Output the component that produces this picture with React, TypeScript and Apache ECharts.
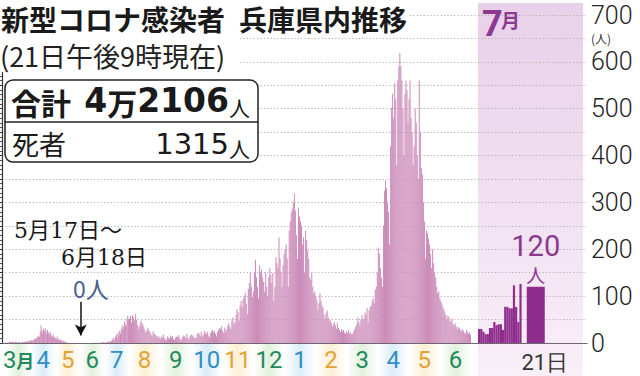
import React, { useEffect, useRef } from 'react';
import * as echarts from 'echarts';

// ---- data (daily new cases) ----
const mar20 = [1,0,1,1,0,2,3,2,1,3,2,1,2,3,1,1,2,2,1,0,1,3,1,2,2,4,2,3,4,5,3];
const apr20 = [5,6,4,7,5,8,10,9,12,15,13,14,24,38,28,22,30,25,32,26,20,28,22,18,24,20,15,12,18,14];
const may20 = [12,10,8,14,9,6,8,5,7,4,3,5,2,3,1,1,0,0,0,0,0,0,0,0,0,0,0,0,0,0,0];
const jun20 = [0,0,0,0,0,0,0,0,0,0,0,0,0,0,0,0,0,0,1,0,0,1,0,0,1,0,1,0,2,1];
const jul20 = [1,0,2,1,1,3,2,4,2,5,7,12,8,6,14,18,12,22,16,26,20,30,38,28,34,46,40,36,52,58,50];
const aug20 = [52,58,44,60,55,48,62,50,38,30,36,48,44,40,34,28,22,27,32,26,24,18,15,25,20,18,16,12,15,11,9];
const sep20 = [14,12,18,10,8,6,14,11,9,16,12,15,8,7,12,14,13,17,10,6,8,13,16,14,11,20,10,8,14,17];
const oct20 = [18,15,12,10,11,19,22,20,15,24,13,17,26,22,19,24,16,12,21,25,28,22,26,19,14,24,28,32,30,35,26];
const nov20 = [22,33,25,30,38,42,35,30,48,55,40,45,60,72,66,48,80,90,77,95,100,108,84,62,115,128,149,120,98,110];
const dec20 = [150,177,140,120,95,166,150,158,140,130,110,151,120,100,140,160,145,128,150,90,120,183,170,160,225,181,150,120,166,190,200];
const jan21 = [210,180,120,240,260,279,287,300,319,283,230,180,289,270,260,250,210,225,150,240,220,198,180,140,134,150,120,106,110,100,91];
const feb21 = [70,85,106,90,80,75,60,50,64,70,55,48,50,43,35,40,45,38,30,43,32,28,23,30,25,28,22,20];
const mar21 = [25,22,28,20,23,18,20,25,30,35,40,55,45,38,50,60,48,52,65,60,74,43,70,77,80,90,95,85,113,120,150];
const apr21 = [204,190,160,140,120,250,325,347,330,300,280,210,420,502,532,480,555,520,380,560,590,619,591,560,500,400,532,560,540,470];
const may21 = [520,560,480,450,380,420,500,470,400,350,560,450,374,360,300,260,180,240,235,223,210,190,160,200,170,150,140,120,106,110,95];
const jun21 = [90,85,77,72,65,60,50,58,55,48,45,52,40,38,42,35,30,34,32,28,25,30,26,22,20,28,24,20,23,18];
const jul21 = [30,30,24,19,19,32,32,45,38,40,40,28,77,77,74,74,123,77,45,126,120];

const monthsA = ['3月', '4', '5', '6', '7'];
const monthsB = ['8', '9', '10', '11', '12', '1', '2', '3', '4', '5', '6'];
const zeroFrom = '5/17';
const zeroTo = '6/18';
const Y_MAX = 700;
const Y_STEP = 50;

// ---- layout / style ----
const JP = "'Noto Sans CJK JP', 'Noto Sans', sans-serif";
const NUM = "Roboto, 'Noto Sans', sans-serif";
const SERIF = "'DejaVu Serif', 'Liberation Serif', 'Noto Sans CJK JP', serif";
const TOP = 15;
const BOTTOM = 33;
const A_LEFT = 5, A_W = 124;
const B_LEFT = 129, B_W = 342;
const J_LEFT = 478, J_W = 109;
const AXIS_X = 587;
const J_SLOTS = 50;
const J_LAST_SLOT = 26;
const PINK = '#cc8cba';
const PURPLE = '#8e2d8c';
const LABEL_PURPLE = '#8b3a8e';
const MONTH_COLORS = ['#1f8a5c', '#2f8ec6', '#e3a23a'];
const MONTH_TINTS = ['#e2f1dc', '#dbedf9', '#fcf0d4'];

function dayNames(startMonth: number, lens: number[]) {
  const out: string[] = [];
  lens.forEach((len, k) => {
    const m = ((startMonth - 1 + k) % 12) + 1;
    for (let d = 1; d <= len; d++) out.push(`${m}/${d}`);
  });
  return out;
}

function monthIdx(label: string) {
  const m = parseInt(label, 10);
  return (((m - 3) % 3) + 3) % 3;
}

function buildOption() {
  const periodA = [mar20, apr20, may20, jun20, jul20];
  const periodB = [aug20, sep20, oct20, nov20, dec20, jan21, feb21, mar21, apr21, may21, jun21];
  const daysA = dayNames(3, periodA.map((a) => a.length));
  const daysB = dayNames(8, periodB.map((a) => a.length));
  const valsA = ([] as number[]).concat(...periodA);
  const valsB = ([] as number[]).concat(...periodB);
  const zs = daysA.indexOf(zeroFrom);
  const ze = daysA.indexOf(zeroTo);
  const mid = daysA[Math.round((zs + ze) / 2)];

  const slots = Array.from({ length: J_SLOTS }, (_, i) => `s${i}`);
  const julyMain = slots.map((_, i) => (i < jul21.length - 1 ? jul21[i] : '-'));
  const julyLast = slots.map((_, i) => (i === J_LAST_SLOT ? jul21[jul21.length - 1] : '-'));

  const band = (labels: string[]) =>
    labels.map((m) => ({
      value: 1,
      itemStyle: {
        color: {
          type: 'linear', x: 0, y: 0, x2: 1, y2: 0,
          colorStops: [
            { offset: 0, color: '#ffffff' },
            { offset: 0.5, color: MONTH_TINTS[monthIdx(m)] },
            { offset: 1, color: '#ffffff' },
          ],
        },
      },
    }));

  const hiddenY = (gridIndex: number, max: number) => ({
    type: 'value', gridIndex, min: 0, max, show: false,
  });

  const monthAxis = (gridIndex: number, data: string[]) => ({
    type: 'category', gridIndex, data, position: 'top', z: 10,
    axisLine: { show: false }, axisTick: { show: false }, splitLine: { show: false },
    axisLabel: {
      inside: true, interval: 0, margin: 4, fontSize: 24, fontFamily: NUM,
      color: (v: string) => MONTH_COLORS[monthIdx(v)],
      formatter: (v: string) => (v.endsWith('月') ? `${v.slice(0, -1)}{s|月}` : v),
      rich: { s: { fontSize: 18, fontFamily: JP, fontWeight: 'bold', color: MONTH_COLORS[0] } },
    },
  });

  return {
    animation: false,
    backgroundColor: '#ffffff',
    grid: [
      { left: 2, right: 640 - AXIS_X, top: TOP, bottom: BOTTOM },
      { left: A_LEFT, width: A_W, top: TOP, bottom: BOTTOM },
      { left: B_LEFT, width: B_W, top: TOP, bottom: BOTTOM },
      { left: J_LEFT, width: J_W, top: TOP, bottom: BOTTOM },
      { left: A_LEFT, width: A_W, top: 376 - BOTTOM + 1, bottom: 0 },
      { left: B_LEFT, width: B_W, top: 376 - BOTTOM + 1, bottom: 0 },
    ],
    xAxis: [
      {
        type: 'value', gridIndex: 0, min: 0, max: 1,
        axisLine: { show: true, lineStyle: { color: '#6e6670', width: 1.2 } },
        axisTick: { show: false }, axisLabel: { show: false }, splitLine: { show: false },
      },
      { type: 'category', gridIndex: 1, data: daysA, show: false },
      { type: 'category', gridIndex: 2, data: daysB, show: false },
      {
        type: 'category', gridIndex: 3, data: slots,
        axisLine: { show: false }, axisTick: { show: false },
        axisLabel: {
          interval: 0, margin: 8, fontSize: 22, fontFamily: NUM, color: '#333',
          padding: [0, 0, 0, 18],
          formatter: (_: string, i: number) => (i === J_LAST_SLOT ? `${jul21.length}日` : ''),
        },
      },
      { type: 'category', gridIndex: 3, data: slots, show: false },
      monthAxis(4, monthsA),
      monthAxis(5, monthsB),
    ],
    yAxis: [
      {
        type: 'value', gridIndex: 0, position: 'right', min: 0, max: Y_MAX, interval: Y_STEP,
        axisLine: { show: true, lineStyle: { color: '#333', width: 1.2 } },
        axisTick: { show: true, inside: true, length: 5, lineStyle: { color: '#333' } },
        minorTick: { show: true, splitNumber: 5, length: 3, lineStyle: { color: '#555' } },
        axisLabel: {
          margin: 4, fontSize: 25, fontFamily: NUM, fontWeight: 300, color: '#222',
          formatter: (v: number) => (v % 100 === 0 ? String(v) : ''),
        },
        splitLine: { show: true, lineStyle: { color: '#b0b0b0', width: 1, type: [1.2, 2.2] } },
      },
      hiddenY(1, Y_MAX),
      hiddenY(2, Y_MAX),
      hiddenY(3, Y_MAX),
      hiddenY(4, 1),
      hiddenY(5, 1),
    ],
    series: [
      {
        type: 'bar', xAxisIndex: 1, yAxisIndex: 1, data: valsA,
        barCategoryGap: '0%', itemStyle: { color: PINK },
        markLine: {
          silent: true, symbol: ['none', 'arrow'], symbolSize: [9, 11],
          lineStyle: { color: '#111', width: 1.5, type: 'solid' },
          label: { show: false },
          data: [[{ coord: [mid, 88] }, { coord: [mid, 16] }]],
        },
      },
      {
        type: 'bar', xAxisIndex: 2, yAxisIndex: 2, data: valsB,
        barCategoryGap: '0%', itemStyle: { color: PINK },
      },
      {
        type: 'bar', xAxisIndex: 3, yAxisIndex: 3, data: julyMain,
        barCategoryGap: '0%', itemStyle: { color: PURPLE },
      },
      {
        type: 'bar', xAxisIndex: 4, yAxisIndex: 3, data: julyLast,
        barWidth: 18, itemStyle: { color: PURPLE },
        label: {
          show: true, position: 'top', distance: 2,
          formatter: (p: any) => `{a|${p.value}}\n{b|人}`,
          rich: {
            a: { fontSize: 29, fontFamily: NUM, color: LABEL_PURPLE, lineHeight: 35, align: 'center' },
            b: { fontSize: 19, fontFamily: JP, color: LABEL_PURPLE, lineHeight: 21, align: 'center' },
          },
        },
      },
      {
        type: 'bar', xAxisIndex: 5, yAxisIndex: 4, data: band(monthsA),
        barCategoryGap: '0%', silent: true, z: 1,
      },
      {
        type: 'bar', xAxisIndex: 6, yAxisIndex: 5, data: band(monthsB),
        barCategoryGap: '0%', silent: true, z: 1,
      },
    ],
    graphic: [
      {
        type: 'rect', z: -10, silent: true,
        shape: { x: J_LEFT, y: 3, width: AXIS_X - J_LEFT - 4, height: 376 - 3 },
        style: {
          fill: {
            type: 'linear', x: 0, y: 0, x2: 0, y2: 1,
            colorStops: [
              { offset: 0, color: '#e9d0e9' },
              { offset: 1, color: '#f8eff8' },
            ],
          },
        },
      },
      // 7月
      { type: 'text', z: 50, x: J_LEFT + 4, y: 6, style: { text: '7', fontSize: 36, fontWeight: 'bold', fontFamily: NUM, fill: LABEL_PURPLE, verticalAlign: 'top' } },
      { type: 'text', z: 50, x: J_LEFT + 23, y: 10, style: { text: '月', fontSize: 19, fontWeight: 'bold', fontFamily: JP, fill: LABEL_PURPLE, verticalAlign: 'top' } },
      // (人)
      { type: 'text', z: 50, x: AXIS_X + 4, y: 38, style: { text: '(人)', fontSize: 12, fontFamily: JP, fill: '#333', verticalAlign: 'middle' } },
      // white masks behind title and subtitle
      { type: 'rect', z: 90, silent: true, shape: { x: 0, y: 0, width: 410, height: 34 }, style: { fill: '#fff' } },
      { type: 'rect', z: 90, silent: true, shape: { x: 0, y: 34, width: 240, height: 38 }, style: { fill: '#fff' } },
      {
        type: 'text', z: 100, x: 1, y: 19,
        style: { text: '新型コロナ感染者\u2002兵庫県内推移', fontSize: 28, lineHeight: 30, fontWeight: 'bold', fontFamily: JP, fill: '#1a1a1a', verticalAlign: 'middle' },
      },
      {
        type: 'text', z: 100, x: 0, y: 55,
        style: { text: '(21日午後9時現在)', fontSize: 27, lineHeight: 28, fontFamily: JP, fill: '#222', verticalAlign: 'middle' },
      },
      // box
      {
        type: 'rect', z: 90, shape: { x: 5, y: 80, width: 253, height: 82, r: 8 },
        style: { fill: '#fff', stroke: '#222', lineWidth: 1.5 },
      },
      { type: 'line', z: 95, shape: { x1: 5, y1: 122, x2: 258, y2: 122 }, style: { stroke: '#222', lineWidth: 1.5 } },
      { type: 'text', z: 100, x: 11, y: 102, style: { text: '合計', fontSize: 30, fontWeight: 'bold', fontFamily: JP, fill: '#1a1a1a', verticalAlign: 'middle' } },
      {
        type: 'text', z: 100, x: 250, y: 117,
        style: {
          text: '{d|4}{k|万}{d|2106}{u|人}', align: 'right', verticalAlign: 'bottom', fill: '#1a1a1a',
          rich: {
            d: { fontSize: 33, fontWeight: 'bold', fontFamily: "'DejaVu Sans', sans-serif", verticalAlign: 'bottom' },
            k: { fontSize: 30, fontWeight: 'bold', fontFamily: JP, verticalAlign: 'bottom' },
            u: { fontSize: 21, fontFamily: JP, verticalAlign: 'bottom' },
          },
        },
      },
      { type: 'text', z: 100, x: 12, y: 143, style: { text: '死者', fontSize: 27, fontFamily: JP, fill: '#1a1a1a', verticalAlign: 'middle' } },
      {
        type: 'text', z: 100, x: 250, y: 158,
        style: {
          text: '{d|1315}{u|人}', align: 'right', verticalAlign: 'bottom', fill: '#1a1a1a',
          rich: {
            d: { fontSize: 29, fontFamily: "'DejaVu Sans', sans-serif", verticalAlign: 'bottom' },
            u: { fontSize: 21, fontFamily: JP, verticalAlign: 'bottom' },
          },
        },
      },
      // annotation
      { type: 'text', z: 100, x: 14, y: 230, style: { text: '5月17日～', fontSize: 22, fontFamily: SERIF, fill: '#1a1a1a', verticalAlign: 'middle' } },
      { type: 'text', z: 100, x: 61, y: 257, style: { text: '6月18日', fontSize: 22, fontFamily: SERIF, fill: '#1a1a1a', verticalAlign: 'middle' } },
      { type: 'text', z: 100, x: 73, y: 288, style: { text: '0人', fontSize: 23, fontFamily: JP, fill: '#4a628f', verticalAlign: 'middle' } },
    ],
  };
}

export default function App() {
  const ref = useRef<HTMLDivElement>(null);
  useEffect(() => {
    if (!ref.current) return;
    const chart = echarts.init(ref.current, null, { renderer: 'svg' });
    chart.setOption(buildOption() as any);
    return () => chart.dispose();
  }, []);
  return (
    <div
      ref={ref}
      style={{ position: 'fixed', left: 0, top: 0, width: 640, height: 376, background: '#fff' }}
    />
  );
}
